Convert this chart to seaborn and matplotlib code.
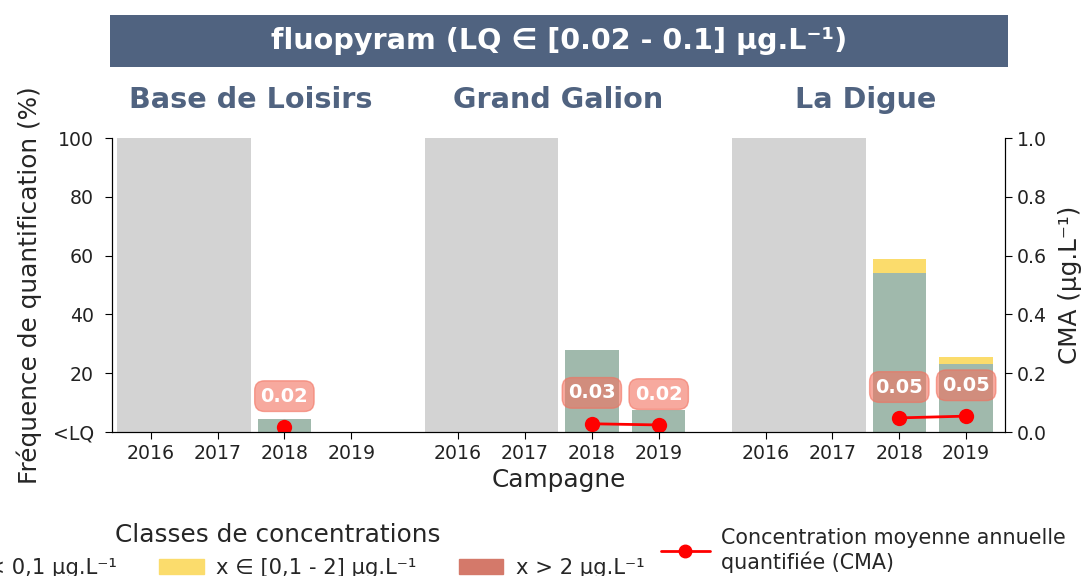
import numpy as np
import pandas as pd
import seaborn as sns
import matplotlib.pyplot as plt
from matplotlib.patches import Patch
from matplotlib.lines import Line2D

# ---- données ----
molecule = "fluopyram (LQ ∈ [0.02 - 0.1] µg.L⁻¹)"
stations = ["Base de Loisirs", "Grand Galion", "La Digue"]
years = [2016, 2017, 2018, 2019]

# fréquence de quantification (%) par classe ; nan = pas de campagne
freq_low = [[np.nan, np.nan, 4.4, 0.0],
            [np.nan, np.nan, 28.0, 7.5],
            [np.nan, np.nan, 54.0, 23.0]]
freq_mid = [[np.nan, np.nan, 0.0, 0.0],
            [np.nan, np.nan, 0.0, 0.0],
            [np.nan, np.nan, 5.0, 2.5]]
freq_high = [[np.nan, np.nan, 0.0, 0.0],
             [np.nan, np.nan, 0.0, 0.0],
             [np.nan, np.nan, 0.0, 0.0]]
# concentration moyenne annuelle quantifiée (µg/L)
cma = [[np.nan, np.nan, 0.017, np.nan],
       [np.nan, np.nan, 0.028, 0.024],
       [np.nan, np.nan, 0.048, 0.054]]

c_low = "#a0b9ac"
c_mid = "#fbdc6c"
c_high = "#d4796a"
c_grey = "#d3d3d3"
c_head = "#506380"

sns.set_style("ticks")
plt.rcParams['font.family'] = ['DejaVu Sans']

rows = []
for s, st in enumerate(stations):
    for i, yr in enumerate(years):
        rows.append({"station": st, "year": yr, "pos": s * 4.6 + i,
                     "low": freq_low[s][i], "mid": freq_mid[s][i],
                     "high": freq_high[s][i], "cma": cma[s][i]})
df = pd.DataFrame(rows)
df["tot"] = df["low"] + df["mid"] + df["high"]
df["lowmid"] = df["low"] + df["mid"]
missing = df[df["low"].isna()].assign(full=100.0)
meas = df[df["low"].notna()]

fig = plt.figure(figsize=(10.89, 5.76), dpi=100)
ax = fig.add_axes([0.1028, 0.25, 0.8200, 0.5104])
ax2 = ax.twinx()

sns.barplot(data=missing, x="pos", y="full", native_scale=True, color=c_grey,
            width=1.0, errorbar=None, saturation=1, linewidth=0, ax=ax)
sns.barplot(data=meas, x="pos", y="tot", native_scale=True, color=c_high,
            width=0.8, errorbar=None, saturation=1, linewidth=0, ax=ax)
sns.barplot(data=meas, x="pos", y="lowmid", native_scale=True, color=c_mid,
            width=0.8, errorbar=None, saturation=1, linewidth=0, ax=ax)
sns.barplot(data=meas, x="pos", y="low", native_scale=True, color=c_low,
            width=0.8, errorbar=None, saturation=1, linewidth=0, ax=ax)

pts = df[df["cma"].notna()]
sns.lineplot(data=pts, x="pos", y="cma", units="station", estimator=None,
             color="red", marker="o", markersize=11, markeredgewidth=0,
             linewidth=2, ax=ax2)
for _, r in pts.iterrows():
    ax2.text(r["pos"], r["cma"] + 0.105, f"{r['cma']:.2f}", ha="center", va="center",
             color="white", fontsize=14, fontweight="bold", zorder=5,
             bbox=dict(boxstyle="round,pad=0.3,rounding_size=0.5", fc="#f2705e",
                       ec="#f2705e", alpha=0.6))

xmin, xmax = -0.58, 2 * 4.6 + 3 + 0.58
ax.set_xlim(xmin, xmax)
ax.set_xticks(df["pos"])
ax.set_xticklabels(df["year"])
ax.set_ylim(0, 100)
ax.set_yticks([0, 20, 40, 60, 80, 100])
ax.set_yticklabels(["<LQ", "20", "40", "60", "80", "100"])
ax2.set_ylim(0, 1)
ax2.set_yticks([0, 0.2, 0.4, 0.6, 0.8, 1.0])
ax2.set_yticklabels(["0.0", "0.2", "0.4", "0.6", "0.8", "1.0"])
ax.tick_params(labelsize=13.6, length=5, color="black", labelcolor="#222222")
ax.tick_params(axis="y", pad=8)
ax2.tick_params(labelsize=13.6, length=5, color="black", labelcolor="#222222")
for a in (ax, ax2):
    a.spines["top"].set_visible(False)
    for sp in ("left", "right", "bottom"):
        a.spines[sp].set_color("black")
ax.set_xlabel("Campagne", fontsize=17.8, labelpad=4)
ax.set_ylabel("Fréquence de quantification (%)", fontsize=17.8, labelpad=8)
ax2.set_ylabel("CMA (µg.L⁻¹)", fontsize=17.8, labelpad=8)

for s, st in enumerate(stations):
    ax.text(s * 4.6 + 1.5, 1.13, st, transform=ax.get_xaxis_transform(),
            ha="center", va="center", fontsize=20.6, fontweight="bold", color=c_head)

# bandeau du titre
tax = fig.add_axes([0.101, 0.884, 0.825, 0.090])
tax.set_facecolor(c_head)
tax.set_xticks([])
tax.set_yticks([])
for sp in tax.spines.values():
    sp.set_visible(False)
tax.text(0.5, 0.5, molecule, ha="center", va="center", color="white",
         fontsize=20.6, fontweight="bold", transform=tax.transAxes)

# légendes
h1 = [Patch(color=c_low, label="x < 0,1 µg.L⁻¹"),
      Patch(color=c_mid, label="x ∈ [0,1 - 2] µg.L⁻¹"),
      Patch(color=c_high, label="x > 2 µg.L⁻¹")]
fig.legend(handles=h1, title="Classes de concentrations", ncol=3,
           loc="upper center", bbox_to_anchor=(278 / 1089, 1 - 504 / 576),
           frameon=False, fontsize=15.2, title_fontsize=17.8,
           handlelength=2.1, handletextpad=0.6, columnspacing=2.0)
h2 = [Line2D([0], [0], color="red", marker="o", markersize=9, lw=2,
             label="Concentration moyenne annuelle\nquantifiée (CMA)")]
fig.legend(handles=h2, loc="upper left", bbox_to_anchor=(642 / 1089, 1 - 509 / 576),
           frameon=False, fontsize=14.9, handlelength=2.4, handletextpad=0.5)

fig.savefig("out.png", dpi=100)
